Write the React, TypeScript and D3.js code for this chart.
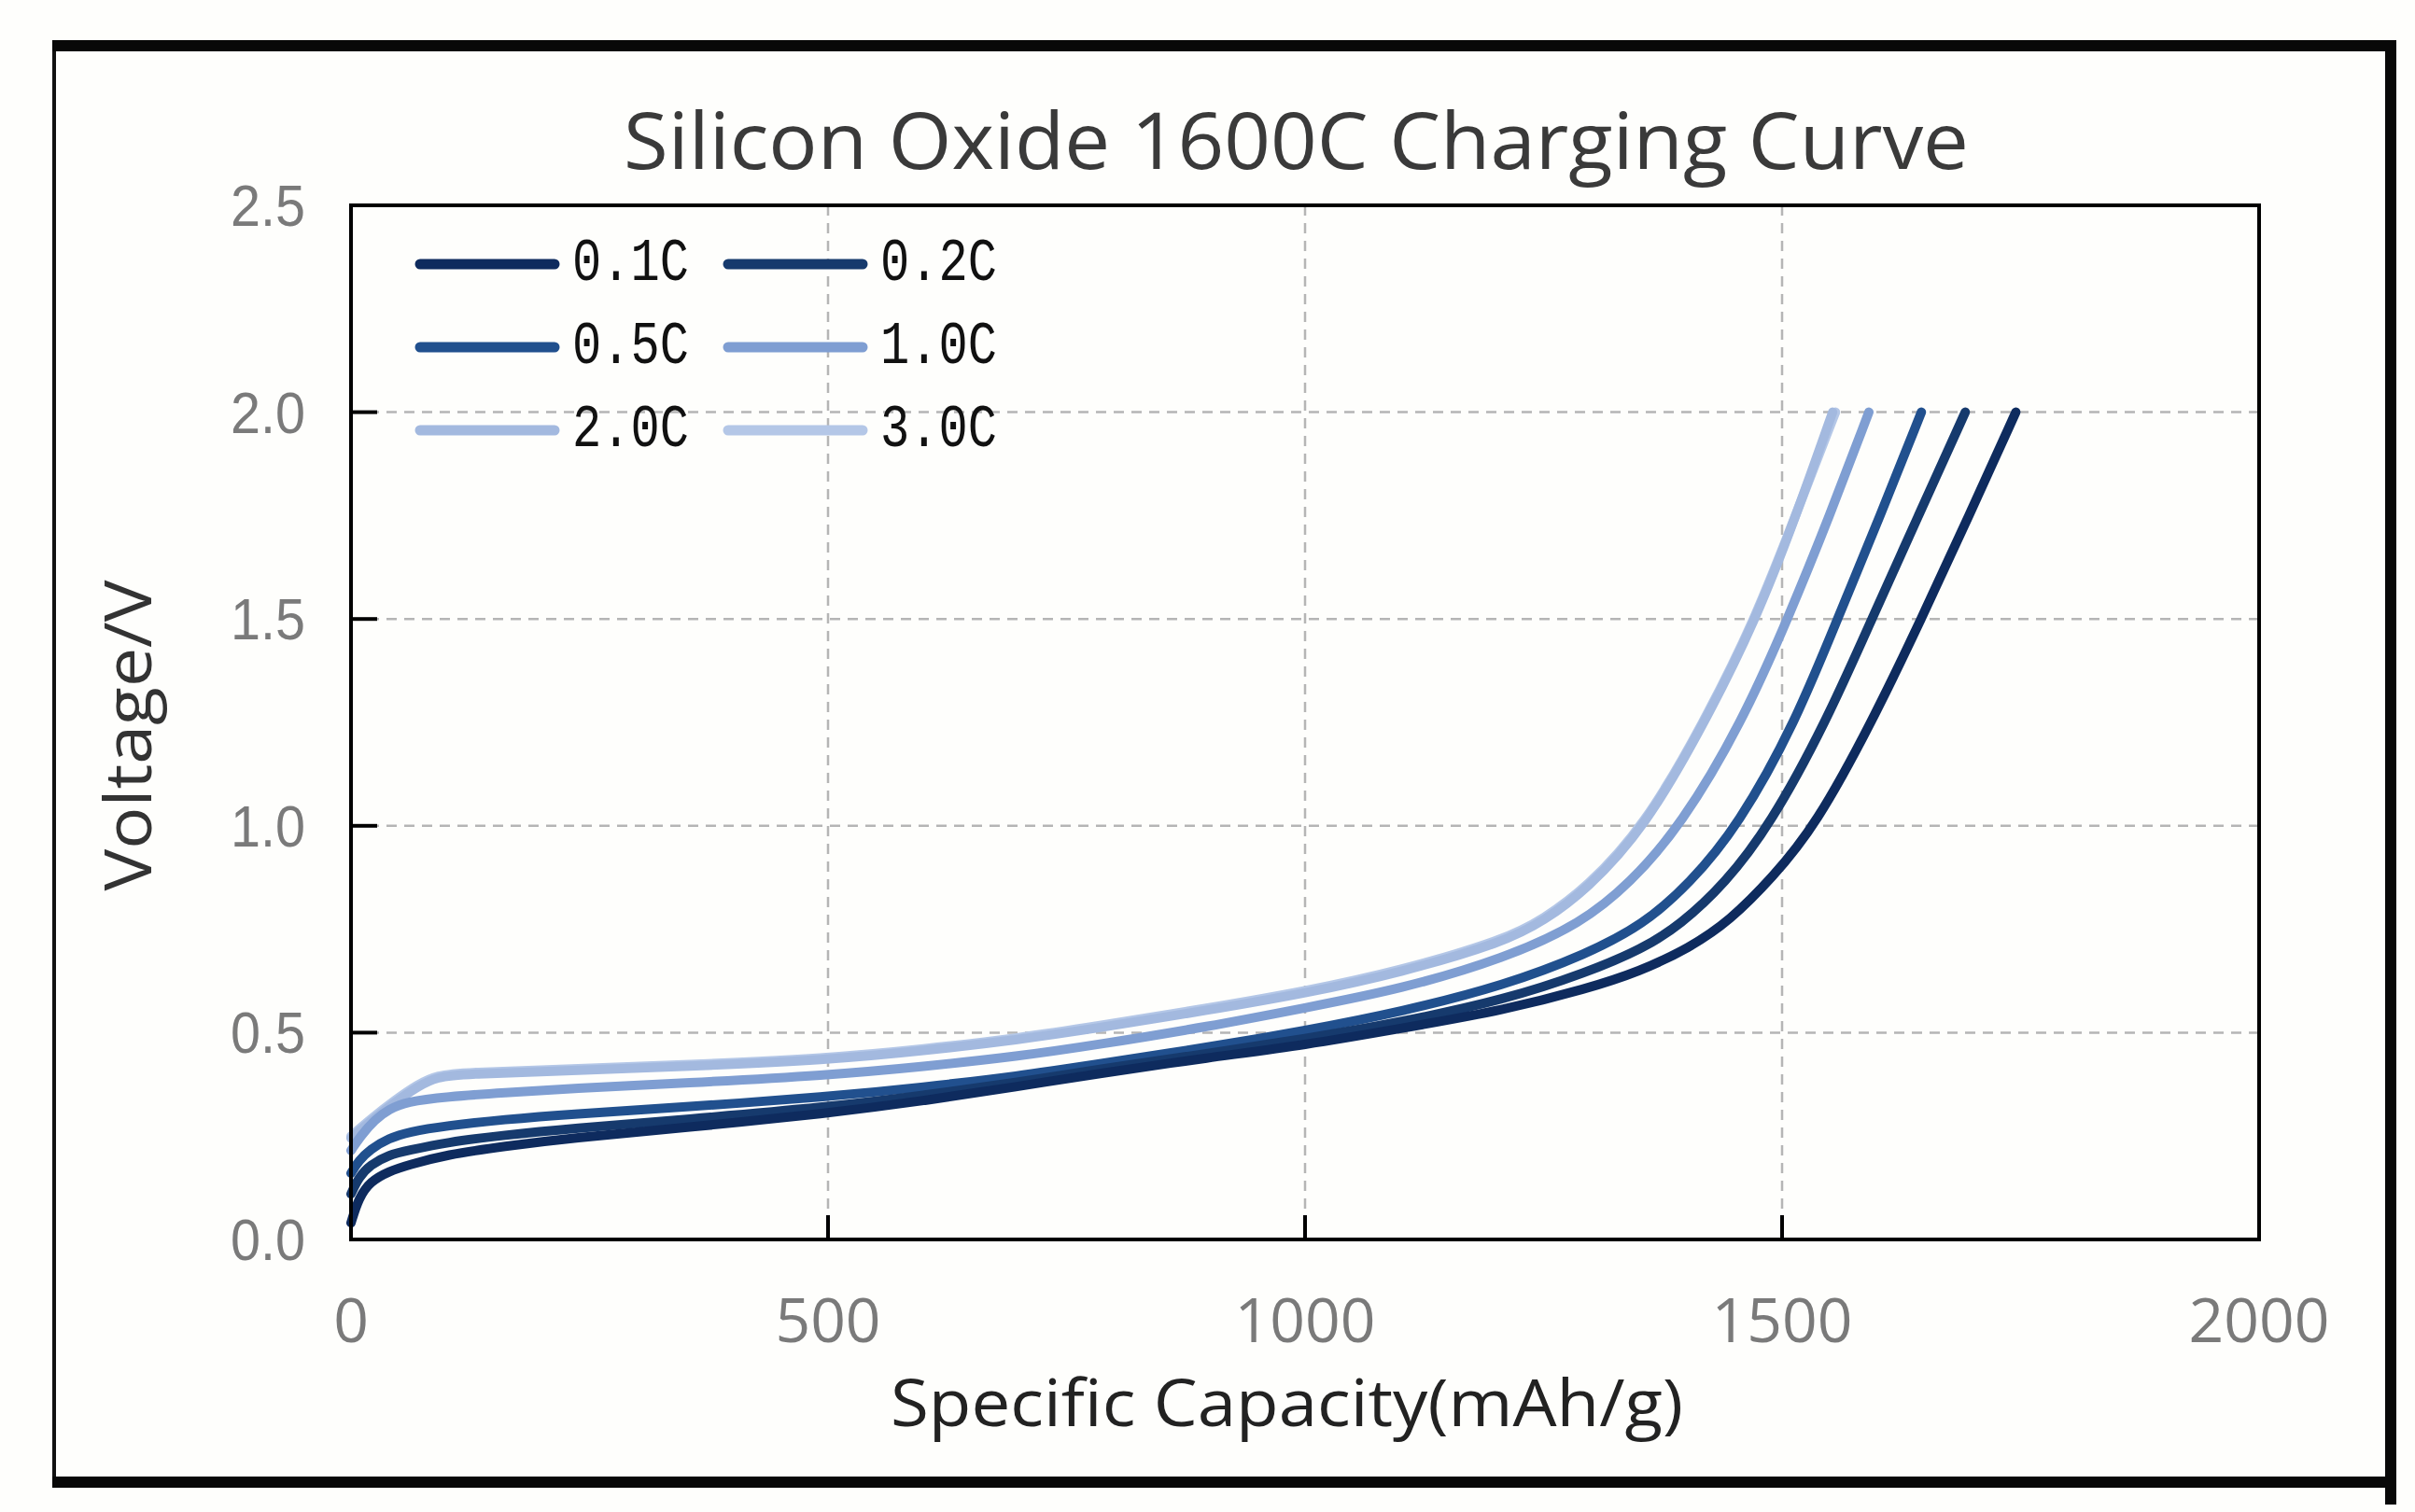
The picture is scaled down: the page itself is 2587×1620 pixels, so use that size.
import React from "react";
import * as d3 from "d3";

const W = 2587;
const H = 1620;

// ---------- data ----------
const seriesNames = ["0.1C", "0.2C", "0.5C", "1.0C", "2.0C", "3.0C"];
const seriesColors = ["#0e2b5e", "#163a6d", "#21508e", "#7f9ed2", "#a3b9df", "#b4c7e7"];

const cap01 = [0, 8, 20, 40, 60, 100, 160, 230, 350, 500, 600, 700, 780, 900, 1000, 1100, 1210, 1295, 1350, 1403, 1445, 1490, 1535, 1594, 1646, 1696, 1745];
const v01 = [0.04, 0.1, 0.14, 0.165, 0.18, 0.205, 0.225, 0.245, 0.27, 0.305, 0.335, 0.37, 0.4, 0.44, 0.47, 0.51, 0.555, 0.606, 0.647, 0.705, 0.77, 0.875, 1.0, 1.25, 1.5, 1.75, 2.0];

const cap02 = [0, 8, 20, 40, 60, 100, 160, 230, 350, 500, 600, 700, 780, 900, 1000, 1100, 1210, 1295, 1354, 1393, 1440, 1487, 1546, 1594, 1643, 1692];
const v02 = [0.11, 0.15, 0.18, 0.205, 0.215, 0.235, 0.252, 0.268, 0.29, 0.32, 0.348, 0.38, 0.41, 0.45, 0.485, 0.525, 0.58, 0.645, 0.703, 0.76, 0.86, 1.0, 1.25, 1.5, 1.75, 2.0];

const cap05 = [0, 8, 20, 40, 60, 100, 160, 230, 350, 500, 600, 700, 780, 900, 1000, 1100, 1210, 1295, 1354, 1403, 1454, 1514, 1558, 1603, 1646];
const v05 = [0.16, 0.19, 0.218, 0.245, 0.26, 0.275, 0.29, 0.303, 0.32, 0.345, 0.368, 0.395, 0.423, 0.465, 0.505, 0.55, 0.615, 0.69, 0.76, 0.86, 1.0, 1.25, 1.5, 1.75, 2.0];

const cap10 = [0, 10, 25, 40, 58, 100, 160, 230, 350, 500, 600, 700, 780, 900, 1000, 1100, 1210, 1290, 1340, 1394, 1458, 1506, 1550, 1591];
const v10 = [0.215, 0.25, 0.29, 0.315, 0.333, 0.345, 0.355, 0.365, 0.378, 0.397, 0.418, 0.443, 0.47, 0.515, 0.56, 0.605, 0.68, 0.765, 0.86, 1.0, 1.25, 1.5, 1.75, 2.0];

const cap20 = [0, 20, 45, 70, 90, 120, 230, 350, 500, 600, 700, 780, 900, 1000, 1100, 1210, 1250, 1295, 1356, 1418, 1472, 1514, 1553];
const v20 = [0.245, 0.285, 0.33, 0.37, 0.393, 0.4, 0.408, 0.418, 0.434, 0.456, 0.483, 0.51, 0.555, 0.595, 0.645, 0.72, 0.77, 0.845, 0.995, 1.245, 1.495, 1.745, 2.0];

const cap30 = [0, 20, 45, 70, 90, 120, 230, 350, 500, 600, 700, 780, 900, 1000, 1100, 1210, 1250, 1295, 1356, 1418, 1472, 1514, 1556];
const v30 = [0.25, 0.29, 0.335, 0.375, 0.397, 0.404, 0.412, 0.422, 0.438, 0.46, 0.487, 0.515, 0.56, 0.6, 0.65, 0.725, 0.775, 0.85, 1.0, 1.25, 1.5, 1.75, 2.0];

const seriesCaps = [cap01, cap02, cap05, cap10, cap20, cap30];
const seriesVolts = [v01, v02, v05, v10, v20, v30];

const xTicks = [0, 500, 1000, 1500, 2000];
const yTicks = [0, 0.5, 1.0, 1.5, 2.0, 2.5];
const xGrid = [500, 1000, 1500];
const yGrid = [0.5, 1.0, 1.5, 2.0];

const titleText = "Silicon Oxide 1600C Charging Curve";
const xTitle = "Specific Capacity(mAh/g)";
const yTitle = "Voltage/V";

// ---------- layout ----------
const plot = { left: 376, right: 2420, top: 220, bottom: 1328 };

export default function App() {
  const x = d3.scaleLinear().domain([0, 2000]).range([plot.left, plot.right]);
  const y = d3.scaleLinear().domain([0, 2.5]).range([plot.bottom, plot.top]);
  const line = d3
    .line<[number, number]>()
    .x((d) => x(d[0]))
    .y((d) => y(d[1]))
    .curve(d3.curveBasis);

  const drawOrder = [5, 4, 3, 2, 1, 0];
  const legendRows = [
    [0, 1],
    [2, 3],
    [4, 5],
  ];
  const legendRowY = [283, 372, 461];
  const legendColX = [450, 780];

  return (
    <svg
      width={W}
      height={H}
      viewBox={`0 0 ${W} ${H}`}
      style={{ position: "absolute", left: 0, top: 0, background: "#ffffff" }}
    >
      <rect x={0} y={0} width={W} height={H} fill="#fefefc" />

      {/* outer frame */}
      <line x1={58} y1={45} x2={58} y2={1594} stroke="#111" strokeWidth={4} />
      <line x1={56} y1={49} x2={2567} y2={49} stroke="#080808" strokeWidth={12} />
      <line x1={2561} y1={43} x2={2561} y2={1612} stroke="#080808" strokeWidth={12} />
      <line x1={56} y1={1588} x2={2567} y2={1588} stroke="#080808" strokeWidth={12} />

      {/* title */}
      <text
        x={(668 + 2109) / 2}
        y={181}
        textAnchor="middle"
        fontFamily="'Open Sans', 'Noto Sans', sans-serif"
        fontSize={84}
        fill="#3a3a3a"
        textLength={1441}
        lengthAdjust="spacingAndGlyphs"
      >
        {titleText}
      </text>

      {/* grid */}
      {xGrid.map((g) => (
        <line
          key={"xg" + g}
          x1={x(g)}
          x2={x(g)}
          y1={plot.top}
          y2={plot.bottom}
          stroke="#b5b5b5"
          strokeWidth={2.5}
          strokeDasharray="11 8"
        />
      ))}
      {yGrid.map((g) => (
        <line
          key={"yg" + g}
          x1={plot.left}
          x2={plot.right}
          y1={y(g)}
          y2={y(g)}
          stroke="#b5b5b5"
          strokeWidth={2.5}
          strokeDasharray="11 8"
        />
      ))}

      {/* curves */}
      {drawOrder.map((i) => {
        const pts = seriesCaps[i].map((c, k) => [c, seriesVolts[i][k]] as [number, number]);
        return (
          <path
            key={seriesNames[i]}
            d={line(pts) || ""}
            fill="none"
            stroke={seriesColors[i]}
            strokeWidth={10}
            strokeLinecap="round"
            strokeLinejoin="round"
          />
        );
      })}

      {/* plot frame */}
      <rect
        x={plot.left}
        y={plot.top}
        width={plot.right - plot.left}
        height={plot.bottom - plot.top}
        fill="none"
        stroke="#000"
        strokeWidth={4}
      />

      {/* ticks */}
      {xTicks.slice(1, -1).map((t) => (
        <line key={"xt" + t} x1={x(t)} x2={x(t)} y1={plot.bottom} y2={plot.bottom - 26} stroke="#000" strokeWidth={4} />
      ))}
      {yTicks.slice(1, -1).map((t) => (
        <line key={"yt" + t} x1={plot.left} x2={plot.left + 28} y1={y(t)} y2={y(t)} stroke="#000" strokeWidth={4} />
      ))}

      {/* tick labels */}
      {yTicks.map((t) => (
        <text
          key={"yl" + t}
          x={327}
          y={y(t)}
          textAnchor="end"
          dominantBaseline="central"
          fontFamily="'Liberation Sans', Arial, sans-serif"
          fontSize={63}
          fill="#7a7a7a"
          textLength={80}
          lengthAdjust="spacingAndGlyphs"
        >
          {d3.format(".1f")(t)}
        </text>
      ))}
      {xTicks.map((t) => (
        <text
          key={"xl" + t}
          x={x(t)}
          y={1438}
          textAnchor="middle"
          fontFamily="'Open Sans', 'Noto Sans', sans-serif"
          fontSize={66}
          fill="#7a7a7a"
        >
          {t}
        </text>
      ))}

      {/* axis titles */}
      <text
        x={(954 + 1803) / 2}
        y={1528}
        textAnchor="middle"
        fontFamily="'Open Sans', 'Noto Sans', sans-serif"
        fontSize={70}
        fill="#222"
        textLength={849}
        lengthAdjust="spacingAndGlyphs"
      >
        {xTitle}
      </text>
      <text
        transform={`translate(162, 788) rotate(-90)`}
        textAnchor="middle"
        fontFamily="'Open Sans', 'Noto Sans', sans-serif"
        fontSize={70}
        fill="#333"
        textLength={333}
        lengthAdjust="spacingAndGlyphs"
      >
        {yTitle}
      </text>

      {/* legend */}
      {legendRows.map((row, r) =>
        row.map((si, c) => (
          <g key={"lg" + si}>
            <line
              x1={legendColX[c]}
              x2={legendColX[c] + 144}
              y1={legendRowY[r]}
              y2={legendRowY[r]}
              stroke={seriesColors[si]}
              strokeWidth={11}
              strokeLinecap="round"
            />
            <text
              x={legendColX[c] + 163}
              y={legendRowY[r]}
              dominantBaseline="central"
              fontFamily="'Liberation Mono', 'DejaVu Sans Mono', monospace"
              fontSize={64}
              fill="#111"
              textLength={125}
              lengthAdjust="spacingAndGlyphs"
            >
              {seriesNames[si]}
            </text>
          </g>
        ))
      )}
    </svg>
  );
}
